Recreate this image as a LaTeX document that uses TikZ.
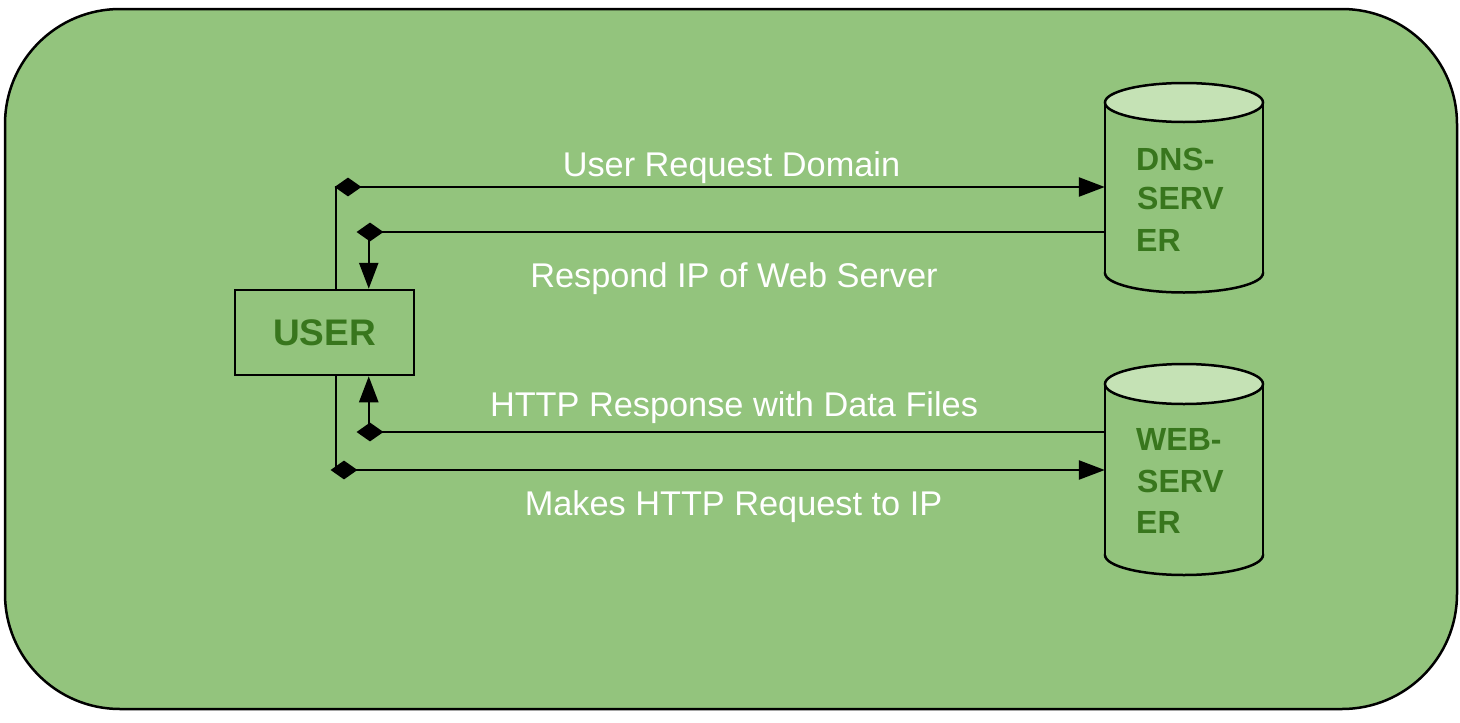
\documentclass[tikz,border=0pt]{standalone}
\usepackage{fontspec}
\setmainfont{Liberation Sans}
\usetikzlibrary{arrows.meta,shapes.geometric}
\definecolor{bg}{RGB}{147,196,125}
\definecolor{topfill}{RGB}{197,226,181}
\definecolor{dgreen}{RGB}{56,118,29}
\begin{document}
\begin{tikzpicture}[x=1pt,y=-1pt,
  conn/.style={line width=2.5pt, draw=black},
  tip/.style={-{Triangle[length=26pt,width=19pt]}},
  dmd/.style={diamond, fill=black, inner sep=0pt, minimum width=27pt, minimum height=19pt},
  lbl/.style={text=white, font=\fontsize{34.3}{40}\selectfont, anchor=base, inner sep=0pt},
  srv/.style={text=dgreen, font=\bfseries\fontsize{32}{37}\selectfont, anchor=base west, inner sep=0pt},
  hole/.style={inner sep=0pt, minimum width=158pt},
  cyl/.style={line width=2.5pt}]
\useasboundingbox (0,0) rectangle (1460,723);
\draw[line width=2.5pt, fill=bg, rounded corners=115pt] (5,9) rectangle (1457,709);

% USER box
\node[draw, line width=2.5pt, minimum width=179pt, minimum height=85pt, inner sep=0pt,
      text=dgreen, font=\bfseries\fontsize{37}{40}\selectfont] (user) at (324.5,332.5) {USER};

% DNS cylinder
\filldraw[cyl, fill=bg] (1184,273) ellipse (79 and 19.5);
\fill[bg] (1105,102.5) rectangle (1263,273);
\draw[cyl] (1105,102.5) -- (1105,273);
\draw[cyl] (1263,102.5) -- (1263,273);
\filldraw[cyl, fill=topfill] (1184,102.5) ellipse (79 and 19.5);
\node[hole, minimum height=210pt] (dns) at (1184,188) {};
\node[srv] (dns1) at (1136,170) {DNS-};
\node[srv] (dns2) at (1137,209) {SERV};
\node[srv] (dns3) at (1136,251) {ER};

% WEB cylinder
\filldraw[cyl, fill=bg] (1184,555) ellipse (79 and 20);
\fill[bg] (1105,384) rectangle (1263,555);
\draw[cyl] (1105,384) -- (1105,555);
\draw[cyl] (1263,384) -- (1263,555);
\filldraw[cyl, fill=topfill] (1184,384) ellipse (79 and 20);
\node[hole, minimum height=214pt] (web) at (1184,470) {};
\node[srv] (web1) at (1136,450) {WEB-};
\node[srv] (web2) at (1137,492) {SERV};
\node[srv] (web3) at (1136,533) {ER};

% connectors
\draw[conn, tip] ([xshift=102pt]user.north west) |- ([yshift=1pt]dns.west);
\draw[conn, tip] ([yshift=-44pt]dns.west) -| ([xshift=135pt]user.north west);
\draw[conn, tip] ([yshift=38pt]web.west) -| ([xshift=135pt]user.south west);
\draw[conn, tip] ([xshift=102pt]user.south west) |- (web.west);

% diamonds
\node[dmd] (d1) at (348,187) {};
\node[dmd] (d2) at (370,232) {};
\node[dmd] (d3) at (370,432) {};
\node[dmd] (d4) at (344,470) {};

% labels
\node[lbl] (l1) at (731.5,176) {User Request Domain};
\node[lbl] (l2) at (734,287) {Respond IP of Web Server};
\node[lbl] (l3) at (734,416) {HTTP Response with Data Files};
\node[lbl] (l4) at (733.5,515) {Makes HTTP Request to IP};
\end{tikzpicture}
\end{document}
